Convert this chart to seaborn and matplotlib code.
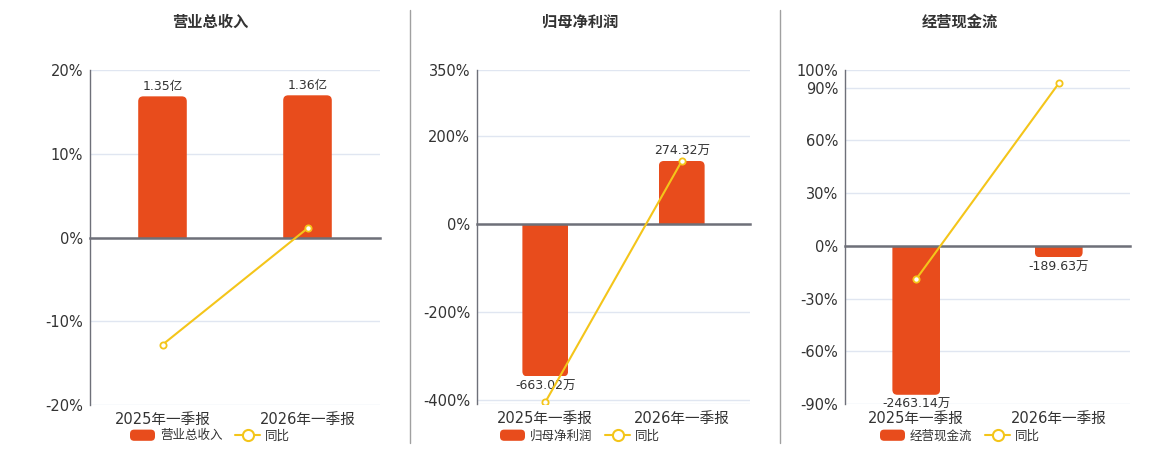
import matplotlib
matplotlib.use("Agg")
import matplotlib.pyplot as plt
import pandas as pd
import seaborn as sns
from matplotlib.patches import FancyBboxPatch, Patch
from matplotlib.lines import Line2D
from matplotlib.ticker import FuncFormatter
from matplotlib.legend_handler import HandlerPatch

# ---- data -------------------------------------------------------------
periods = ["2025年一季报", "2026年一季报"]

revenue = [1.35, 1.36]              # 亿
revenue_yoy = [-12.8, 1.1]          # %
net_profit = [-663.02, 274.32]      # 万
net_profit_yoy = [-405.0, 143.0]    # %
op_cash = [-2463.14, -189.63]       # 万
op_cash_yoy = [-18.9, 92.4]         # %

titles = ["营业总收入", "归母净利润", "经营现金流"]
units = ["亿", "万", "万"]
yoy_name = "同比"

bar_series = [revenue, net_profit, op_cash]
yoy_series = [revenue_yoy, net_profit_yoy, op_cash_yoy]

# ---- axis configuration ----------------------------------------------
pct_ticks = [[-20, -10, 0, 10, 20],
             [-400, -200, 0, 200, 350],
             [-90, -60, -30, 0, 30, 60, 90, 100]]
pct_limits = [(-20, 20), (-409, 350), (-90, 100)]
# bar units per percentage point, so both zero lines coincide
bar_scale = [0.0801, 1.915, 29.06]

# ---- style -------------------------------------------------------------
BAR = "#E84C1C"
LINE = "#F4C51A"
GRID = "#E0E6F1"
AXIS = "#6E7079"
TEXT = "#333333"
W, H = 1160, 450

sns.set_theme(style="white")
plt.rcParams["font.family"] = ["DejaVu Sans", "Noto Sans CJK SC"]
plt.rcParams["axes.unicode_minus"] = False

fig = plt.figure(figsize=(W / 100, H / 100), dpi=100)
fig.patch.set_facecolor("white")

# panel boxes in pixels: left, top, right, bottom
boxes = [(90, 70, 380, 405), (477, 70, 750, 404), (845, 70, 1130, 404)]
centers = [210, 580, 960]


def rounded_legend_patch(legend, orig_handle, xdescent, ydescent, width, height, fontsize):
    return FancyBboxPatch((-xdescent, -ydescent), width, height,
                          boxstyle="round,pad=0,rounding_size=3")


def round_bar_ends(ax, values, xpp, ypp, radius_px=5):
    """Replace the plain bar rectangles with ones whose outer end is rounded."""
    for p, v in zip(list(ax.containers[0]), values):
        x0, w = p.get_x(), p.get_width()
        y0, h = p.get_y(), p.get_height()
        lo_, hi_ = min(y0, y0 + h), max(y0, y0 + h)
        ext = radius_px * ypp
        if v >= 0:
            lo_ -= ext
        else:
            hi_ += ext
        fb = FancyBboxPatch((x0, lo_), w, hi_ - lo_,
                            boxstyle=f"round,pad=0,rounding_size={radius_px * xpp}",
                            mutation_aspect=ypp / xpp,
                            facecolor=BAR, edgecolor="none", zorder=p.get_zorder())
        ax.add_patch(fb)
        fb.set_clip_path(p)
        p.set_visible(False)


for i in range(3):
    l, t, r, b = boxes[i]
    lo, hi = pct_limits[i]
    k = bar_scale[i]
    df = pd.DataFrame({"period": periods, "value": bar_series[i], "yoy": yoy_series[i]})

    # bars on the lower axes
    ax_bar = fig.add_axes([l / W, 1 - b / H, (r - l) / W, (b - t) / H])
    sns.barplot(data=df, x="period", y="value", ax=ax_bar, color=BAR,
                width=0.335, saturation=1, linewidth=0)
    ax_bar.set_xlim(-0.5, 1.5)
    ax_bar.set_ylim(lo * k, hi * k)
    ax_bar.set_xlabel("")
    ax_bar.set_ylabel("")

    grid_pos = sorted(set(pct_ticks[i]) | {lo})
    ax_bar.set_yticks([p * k for p in grid_pos])
    ax_bar.yaxis.grid(True, color=GRID, linewidth=1)
    ax_bar.set_axisbelow(True)
    ax_bar.tick_params(axis="y", length=0, labelleft=False)

    for side in ("top", "right"):
        ax_bar.spines[side].set_visible(False)
    ax_bar.spines["left"].set_color(AXIS)
    ax_bar.spines["left"].set_linewidth(1)
    ax_bar.spines["bottom"].set_position(("data", 0))
    ax_bar.spines["bottom"].set_color(AXIS)
    ax_bar.spines["bottom"].set_linewidth(1.8)
    ax_bar.set_xticks([-0.5, 0.5, 1.5], minor=True)
    ax_bar.tick_params(axis="x", which="major", length=0, labelbottom=False)
    ax_bar.tick_params(axis="x", which="minor", length=5, width=1,
                       color=AXIS, direction="out", labelbottom=False)

    xpp = 2.0 / (r - l)
    ypp = (hi - lo) * k / (b - t)
    round_bar_ends(ax_bar, bar_series[i], xpp, ypp)

    ax_bar.bar_label(ax_bar.containers[0],
                     labels=[f"{v:.2f}{units[i]}" for v in bar_series[i]],
                     padding=2.5, fontsize=9, color=TEXT)

    # category labels along the bottom edge
    sec = ax_bar.secondary_xaxis("bottom")
    sec.set_xticks([0, 1], labels=periods)
    sec.tick_params(length=0, pad=5, labelsize=10.5, colors=TEXT)
    sec.spines["bottom"].set_visible(False)

    # year-on-year line on the upper axes
    ax_line = ax_bar.twinx()
    sns.pointplot(data=df, x="period", y="yoy", ax=ax_line, color=LINE,
                  markers="o", linestyles="-", errorbar=None,
                  markersize=4.5, markerfacecolor="white",
                  markeredgecolor=LINE, markeredgewidth=1.3, linewidth=1.5)
    ax_line.set_xlim(-0.5, 1.5)
    ax_line.set_ylim(lo, hi)
    ax_line.set_yticks(pct_ticks[i])
    ax_line.yaxis.set_major_formatter(FuncFormatter(lambda v, _: f"{v:.0f}%"))
    ax_line.yaxis.tick_left()
    ax_line.tick_params(axis="y", length=0, pad=5, labelsize=10.5, colors=TEXT)
    ax_line.set_xlabel("")
    ax_line.set_ylabel("")
    ax_line.grid(False)
    for s in ax_line.spines.values():
        s.set_visible(False)

    # title and legend
    fig.text(centers[i] / W, 1 - 22 / H, titles[i], ha="center", va="center",
             fontsize=11, fontweight="bold", color=TEXT)
    handles = [
        Patch(facecolor=BAR, edgecolor="none", label=titles[i]),
        Line2D([], [], color=LINE, linewidth=1.5, marker="o", markersize=8,
               markerfacecolor="white", markeredgecolor=LINE,
               markeredgewidth=1.5, label=yoy_name),
    ]
    fig.legend(handles=handles, loc="center",
               bbox_to_anchor=(centers[i] / W, 1 - 436 / H),
               ncol=2, frameon=False, fontsize=9, labelcolor=TEXT,
               handlelength=2.0, handleheight=1.0, handletextpad=0.4,
               columnspacing=1.0, borderaxespad=0, borderpad=0,
               handler_map={Patch: HandlerPatch(patch_func=rounded_legend_patch)})

# vertical separators between the panels
for xs in (410, 780):
    fig.add_artist(Line2D([xs / W, xs / W], [1 - 10 / H, 1 - 443 / H],
                          transform=fig.transFigure, color="#A0A0A0", linewidth=1))

fig.savefig("out.png", dpi=100, facecolor="white")
